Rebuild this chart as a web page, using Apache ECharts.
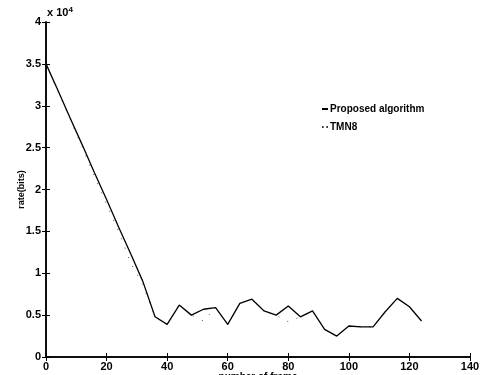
<!DOCTYPE html>
<html>
<head>
<meta charset="utf-8">
<script src="https://cdn.jsdelivr.net/npm/echarts@6/dist/echarts.min.js"></script>
<style>
html,body{margin:0;padding:0;background:#fff;}
#chart{width:490px;height:375px;}
</style>
</head>
<body>
<div id="chart"></div>
<script>
// Frame numbers where the rate was sampled
const frames = [0,4,8,12,16,20,24,28,32,36,40,44,48,52,56,60,64,68,72,76,80,84,88,92,96,100,104,108,112,116,120,124];
// Bits per frame (x 10^4)
const proposed = [3.5,3.18,2.85,2.53,2.2,1.88,1.55,1.23,0.9,0.48,0.39,0.62,0.5,0.57,0.59,0.39,0.64,0.69,0.55,0.5,0.61,0.48,0.55,0.33,0.25,0.37,0.36,0.36,0.54,0.7,0.6,0.43];
const tmn8 = [3.5,3.17,2.84,2.5,2.16,1.82,1.5,1.12,0.86,0.48,0.39,0.62,0.5,0.43,0.59,0.39,0.64,0.69,0.55,0.5,0.42,0.48,0.55,0.33,0.25,0.37,0.36,0.36,0.54,0.7,0.6,0.43];
const yTicks = [0,0.5,1,1.5,2,2.5,3,3.5,4];
const xTicks = [0,20,40,60,80,100,120,140];

const font = 'Liberation Sans, Arial, sans-serif';
const pair = (xs, ys) => xs.map((x, i) => [x, ys[i]]);

const chart = echarts.init(document.getElementById('chart'), null, {renderer: 'canvas'});
const axisLine = {show: true, lineStyle: {color: '#000', width: 1.5}};
const tickIn = {show: true, inside: true, length: 4, lineStyle: {color: '#000', width: 1}};

chart.setOption({
  animation: false,
  backgroundColor: '#fff',
  grid: {left: 46, right: 20, top: 22, bottom: 18, containLabel: false, outerBoundsMode: 'none'},
  legend: {
    orient: 'vertical',
    left: 317,
    top: 99,
    itemGap: 8,
    itemWidth: 6,
    itemHeight: 2,
    textStyle: {fontFamily: font, fontSize: 10, fontWeight: 'bold', color: '#000', padding: [0, 0, 0, -3]},
    data: [
      {name: 'Proposed algorithm', icon: 'rect'},
      {name: 'TMN8', icon: 'path://M0,0h2v2h-2z M5,0h2v2h-2z'}
    ]
  },
  xAxis: [
    {
      type: 'value', min: 0, max: 140, interval: 20,
      name: 'number of frame', nameLocation: 'middle', nameGap: 15, nameMoveOverlap: false,
      nameTextStyle: {fontFamily: font, fontSize: 10, fontWeight: 'bold', color: '#000', verticalAlign: 'top'},
      axisLine: axisLine, axisTick: tickIn, splitLine: {show: false},
      axisLabel: {fontFamily: font, fontSize: 11, fontWeight: 'bold', color: '#000', margin: 4,
        formatter: v => xTicks.includes(v) ? String(v) : ''}
    },
    {
      type: 'value', position: 'top', min: 0, max: 140, interval: 20,
      axisLine: axisLine, axisTick: tickIn, axisLabel: {show: false}, splitLine: {show: false}
    }
  ],
  yAxis: [
    {
      type: 'value', min: 0, max: 4, interval: 0.5,
      name: 'rate(bits)', nameLocation: 'middle', nameGap: 20, nameRotate: 90, nameMoveOverlap: false,
      nameTextStyle: {fontFamily: font, fontSize: 9, fontWeight: 'bold', color: '#000'},
      axisLine: axisLine, axisTick: tickIn, splitLine: {show: false},
      axisLabel: {fontFamily: font, fontSize: 11, fontWeight: 'bold', color: '#000', margin: 5,
        formatter: v => yTicks.includes(v) ? String(v) : ''}
    },
    {
      type: 'value', position: 'right', min: 0, max: 4, interval: 0.5,
      axisLine: axisLine, axisTick: tickIn, axisLabel: {show: false}, splitLine: {show: false}
    }
  ],
  graphic: [
    {
      type: 'text', left: 47, top: 6,
      style: {
        text: '{a|x 10}{b|4}',
        rich: {
          a: {fontFamily: font, fontSize: 11, fontWeight: 'bold', fill: '#000'},
          b: {fontFamily: font, fontSize: 8, fontWeight: 'bold', fill: '#000', verticalAlign: 'top', padding: [0, 0, 6, 0]}
        }
      }
    }
  ],
  series: [
    {
      name: 'TMN8', type: 'line', data: pair(frames, tmn8),
      symbol: 'none', z: 1,
      lineStyle: {color: '#444', width: 1, type: [1, 9]},
      itemStyle: {color: '#000'}
    },
    {
      name: 'Proposed algorithm', type: 'line', data: pair(frames, proposed),
      symbol: 'none', z: 2,
      lineStyle: {color: '#000', width: 1.3},
      itemStyle: {color: '#000'}
    }
  ]
});
</script>
</body>
</html>
